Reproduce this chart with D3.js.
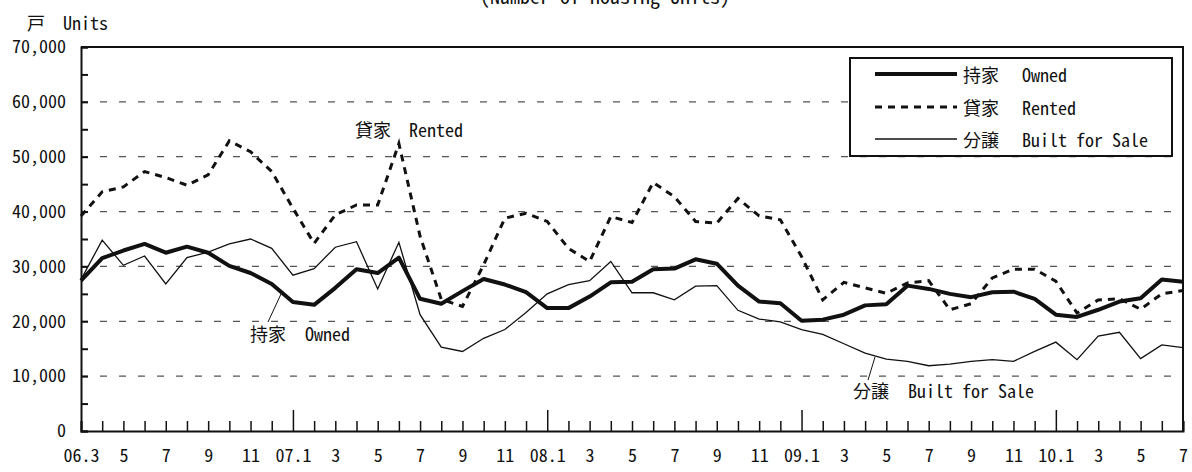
<!DOCTYPE html>
<html>
<head>
<meta charset="utf-8">
<script src="https://cdn.jsdelivr.net/npm/d3@7.9.0/dist/d3.min.js"></script>
<style>
  body { margin: 0; background: #fff; }
  text { fill: #111; }
  .lat { font-family: "Noto Sans Mono CJK JP", "Liberation Mono", monospace; font-size: 18px; }
  .jp { font-family: "Noto Sans Mono CJK JP", "Noto Sans CJK JP", sans-serif; font-size: 18px; }
</style>
</head>
<body>
<svg id="chart" width="1192" height="472"></svg>
<script>
// months from 2006.3 to 2010.7
const months = [
  "06.3", "4", "5", "6", "7", "8", "9", "10", "11", "12",
  "07.1", "2", "3", "4", "5", "6", "7", "8", "9", "10", "11", "12",
  "08.1", "2", "3", "4", "5", "6", "7", "8", "9", "10", "11", "12",
  "09.1", "2", "3", "4", "5", "6", "7", "8", "9", "10", "11", "12",
  "10.1", "2", "3", "4", "5", "6", "7"
];

// 持家 Owned
const owned = [
  27400, 31500, 32900, 34100, 32500, 33600, 32500, 30100, 28800, 26800,
  23500, 23000, 26100, 29500, 28800, 31600, 24100, 23200, 25500, 27700, 26700, 25300,
  22400, 22400, 24500, 27100, 27200, 29500, 29600, 31300, 30500, 26500, 23600, 23300,
  20100, 20300, 21200, 22900, 23100, 26500, 25900, 25000, 24400, 25300, 25400, 24100,
  21200, 20800, 22100, 23600, 24200, 27600, 27200
];

// 貸家 Rented
const rented = [
  39200, 43600, 44500, 47300, 46200, 44800, 46700, 52900, 50900, 47300,
  40600, 34200, 39400, 41200, 41200, 52400, 35500, 24000, 22700, 30300, 38800, 39700,
  38200, 33300, 30900, 39100, 38000, 45300, 42700, 38200, 37900, 42400, 39200, 38500,
  31800, 23900, 27100, 26100, 25100, 27000, 27400, 22100, 23200, 27900, 29500, 29500,
  27300, 21500, 23900, 24100, 22200, 25000, 25600
];

// 分譲 Built for Sale
const builtForSale = [
  27600, 34800, 30200, 31900, 26800, 31600, 32600, 34100, 35000, 33300,
  28400, 29600, 33500, 34500, 25900, 34400, 21200, 15300, 14500, 16900, 18500, 21600,
  25000, 26700, 27400, 30900, 25200, 25200, 23900, 26400, 26500, 22000, 20400, 19900,
  18500, 17600, 15900, 14200, 13100, 12700, 11900, 12200, 12700, 13000, 12700, 14500,
  16200, 13000, 17300, 18000, 13200, 15700, 15200
];

const seriesNames = [
  { jp: "持家", en: "Owned" },
  { jp: "貸家", en: "Rented" },
  { jp: "分譲", en: "Built for Sale" }
];

const yTicks = d3.range(0, 70001, 5000);

const svg = d3.select("#chart");
const m = { left: 81, right: 1183, top: 47, bottom: 431 };

const x = d3.scaleLinear().domain([0, months.length - 1]).range([m.left, m.right]);
const y = d3.scaleLinear().domain([0, 70000]).range([m.bottom, m.top]);

// dashed grid lines
svg.append("g")
  .selectAll("line")
  .data(yTicks.filter(v => v > 0 && v < 70000 && v % 10000 === 0))
  .join("line")
  .attr("x1", m.left).attr("x2", m.right)
  .attr("y1", d => y(d)).attr("y2", d => y(d))
  .attr("stroke", "#555")
  .attr("stroke-width", 1.3)
  .attr("stroke-dasharray", "7,12");

// y axis
const yAxis = svg.append("g")
  .attr("transform", `translate(${m.left},0)`)
  .call(d3.axisLeft(y)
    .tickValues(yTicks)
    .tickSize(-7)
    .tickPadding(15)
    .tickFormat(v => v % 10000 === 0 ? d3.format(",")(v) : ""));
yAxis.select(".domain").attr("stroke", "#111").attr("stroke-width", 2);
yAxis.selectAll(".tick line").attr("stroke", "#111").attr("stroke-width", 2);
yAxis.selectAll("text").attr("class", "lat").attr("fill", "#111");

// x axis: monthly minor ticks, January major ticks
const xAxis = svg.append("g")
  .attr("transform", `translate(0,${m.bottom})`)
  .call(d3.axisBottom(x)
    .tickValues(d3.range(months.length))
    .tickSize(-10)
    .tickPadding(18)
    .tickFormat(i => i % 2 === 0 ? months[i] : ""));
xAxis.select(".domain").attr("stroke", "#111").attr("stroke-width", 2);
xAxis.selectAll(".tick line").attr("stroke", "#111").attr("stroke-width", 1.5)
  .attr("y2", i => months[i].endsWith(".1") ? -21 : -10);
xAxis.selectAll("text").attr("class", "lat").attr("fill", "#111");

// frame top and right
svg.append("path")
  .attr("d", `M${m.left},${m.top}H${m.right}V${m.bottom}`)
  .attr("fill", "none")
  .attr("stroke", "#111")
  .attr("stroke-width", 2);

// lines
const line = d3.line().x((d, i) => x(i)).y(d => y(d));

svg.append("path").datum(builtForSale)
  .attr("d", line).attr("fill", "none")
  .attr("stroke", "#111").attr("stroke-width", 1.3);

svg.append("path").datum(rented)
  .attr("d", line).attr("fill", "none")
  .attr("stroke", "#111").attr("stroke-width", 3)
  .attr("stroke-dasharray", "7,6");

svg.append("path").datum(owned)
  .attr("d", line).attr("fill", "none")
  .attr("stroke", "#111").attr("stroke-width", 4)
  .attr("stroke-linejoin", "round");

// mixed JP / EN label
function label(g, lx, ly, item, enDx) {
  const t = g.append("text").attr("x", lx).attr("y", ly).attr("dominant-baseline", "central");
  t.append("tspan").attr("class", "jp").text(item.jp);
  t.append("tspan").attr("class", "lat").attr("x", lx + enDx).text(item.en);
  return t;
}

// legend
const lg = svg.append("g");
lg.append("rect")
  .attr("x", 850).attr("y", 58).attr("width", 322).attr("height", 98)
  .attr("fill", "#fff").attr("stroke", "#111").attr("stroke-width", 2);
const legendStyles = [
  { w: 4, dash: null },
  { w: 3, dash: "7,6" },
  { w: 1.3, dash: null }
];
const legendRowY = [74, 107, 139];
seriesNames.forEach((s, i) => {
  lg.append("line")
    .attr("x1", 875).attr("x2", 957)
    .attr("y1", legendRowY[i]).attr("y2", legendRowY[i])
    .attr("stroke", "#111")
    .attr("stroke-width", legendStyles[i].w)
    .attr("stroke-dasharray", legendStyles[i].dash);
  label(lg, 963, legendRowY[i], s, 59);
});

// in-chart annotations
label(svg, 355, 129, seriesNames[1], 54);
label(svg, 250, 333, seriesNames[0], 55);
svg.append("line").attr("x1", 268).attr("y1", 322).attr("x2", 281).attr("y2", 294)
  .attr("stroke", "#111").attr("stroke-width", 1);
label(svg, 853, 390, seriesNames[2], 55);
svg.append("line").attr("x1", 868).attr("y1", 380).attr("x2", 875).attr("y2", 357)
  .attr("stroke", "#111").attr("stroke-width", 1);

// unit label and cut-off title
const u = svg.append("text").attr("x", 27).attr("y", 22).attr("dominant-baseline", "central");
u.append("tspan").attr("class", "jp").text("戸");
u.append("tspan").attr("class", "lat").attr("x", 63).text("Units");

svg.append("text")
  .attr("class", "lat")
  .attr("x", 605).attr("y", 4)
  .attr("text-anchor", "middle")
  .style("font-size", "20px")
  .text("(Number of Housing Units)");
</script>
</body>
</html>
